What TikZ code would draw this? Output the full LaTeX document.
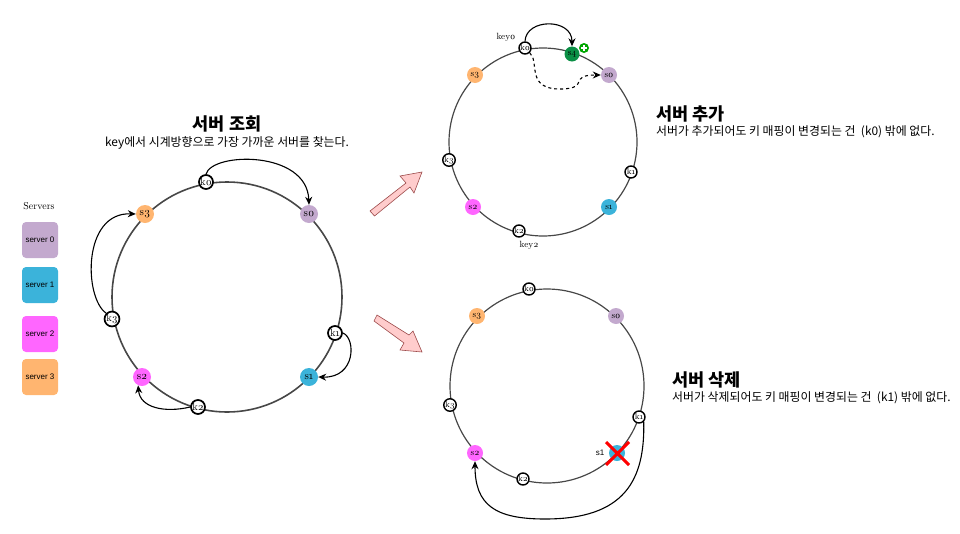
\documentclass[tikz,border=0pt]{standalone}
\usepackage{fontspec}
\setmainfont{Latin Modern Roman}[Numbers=OldStyle]
\newfontfamily\krfont{Noto Sans CJK KR}
\newfontfamily\lgfont{Liberation Sans}
\usetikzlibrary{arrows.meta}
\definecolor{srvzero}{HTML}{C3A9CE}
\definecolor{srvone}{HTML}{3BB3DA}
\definecolor{srvtwo}{HTML}{FF66FF}
\definecolor{srvthree}{HTML}{FFB570}
\definecolor{srvfour}{HTML}{0B8F45}

\begin{document}
\begin{tikzpicture}[
  x = 1pt, y = -1pt,
  ring/.style = {circle, draw = black!72, line width = 1.6pt, inner sep = 0pt, minimum size = #1},
  srv/.style = {circle, fill = #1, inner sep = 0pt, minimum size = 18pt, font = \fontsize{11}{11}\selectfont},
  srvsmall/.style = {srv = #1, minimum size = 16pt, font = \fontsize{9}{9}\selectfont},
  kbig/.style = {circle, draw, fill = white, line width = 1.7pt, inner sep = 0pt, minimum size = 14pt, font = \fontsize{10.5}{10}\selectfont},
  ksmall/.style = {kbig, line width = 1.4pt, minimum size = 12pt, font = \fontsize{8.5}{8}\selectfont},
  lgbox/.style = {rectangle, rounded corners = 4pt, fill = #1, minimum width = 36pt, minimum height = 36pt, inner sep = 0pt, font = \lgfont\fontsize{8}{8}\selectfont},
  ttl/.style = {inner sep = 0pt, font = \krfont\bfseries\fontsize{17.5}{18}\selectfont},
  sub/.style = {inner sep = 0pt, font = \krfont\fontsize{11.9}{13}\selectfont},
  link/.style = {-{Stealth[length = 8pt, width = 7pt]}, line width = 1.1pt},
  blockarrow/.style = {draw = red!45!black!70, fill = red!20, line width = 0.6pt}
  ]
  \useasboundingbox (0,0) rectangle (960,533);

  % legend
  \node (servers) [font = \fontsize{10}{10}\selectfont, inner sep = 0pt] at (39,206) {Servers};
  \node (lg0) [lgbox = srvzero] at (40,240) {server 0};
  \node (lg1) [lgbox = srvone] at (40,285) {server 1};
  \node (lg2) [lgbox = srvtwo] at (40,334) {server 2};
  \node (lg3) [lgbox = srvthree] at (40,377) {server 3};

  % main ring
  \node (ringa) [ring = 230pt] at (227,297) {};
  \node (as0) [srv = srvzero] at (309,214) {s0};
  \node (as1) [srv = srvone] at (309,377) {s1};
  \node (as2) [srv = srvtwo] at (142,377) {s2};
  \node (as3) [srv = srvthree] at (145,214) {s3};
  \node (ak0) [kbig] at (206,182) {k0};
  \node (ak1) [kbig] at (335,333) {k1};
  \node (ak2) [kbig] at (198,407) {k2};
  \node (ak3) [kbig] at (112,319) {k3};
  \draw [link] (ak0.north) .. controls (212,152) and (307,150) .. (as0.north);
  \draw [link] (ak3.north west) .. controls (84,298) and (82,212) .. (as3.west);
  \draw [link] (ak2.west) .. controls (165,413) and (140,408) .. (as2.245);
  \draw [link] (ak1.east) .. controls (356,338) and (356,378) .. (as1.east);
  \node (ttla) [ttl] at (227,124) {서버 조회};
  \node (suba) [sub] at (227,143) {key에서 시계방향으로 가장 가까운 서버를 찾는다.};

  % block arrows
  \draw [blockarrow] (370,211) -- (406,183) -- (400,176) -- (422,172) -- (414,193) -- (410,187) -- (374.5,216) -- cycle;
  \draw [blockarrow] (377,315) -- (409,335) -- (413,331) -- (422,352) -- (400,350) -- (404,343) -- (374,321) -- cycle;

  % added server
  \node (ringb) [ring = 188pt, line width = 1.2pt] at (543,142) {};
  \node (bs0) [srvsmall = srvzero] at (609,75) {s0};
  \node (bs1) [srvsmall = srvone] at (609,207) {s1};
  \node (bs2) [srvsmall = srvtwo] at (473,207) {s2};
  \node (bs3) [srvsmall = srvthree] at (475,75) {s3};
  \node (bs4) [srvsmall = srvfour, minimum size = 15pt] at (572,54) {s4};
  \node (bplus) [circle, fill = green!65!black, inner sep = 0pt, minimum size = 10pt] at (584,48) {};
  \draw [white, line width = 1.4pt] (581,48) -- (587,48) (584,45) -- (584,51);
  \node (bk0) [ksmall] at (525,48) {k0};
  \node (bk1) [ksmall] at (631,172) {k1};
  \node (bk2) [ksmall] at (519,231) {k2};
  \node (bk3) [ksmall] at (449,160) {k3};
  \node (bkey0) [font = \fontsize{9}{9}\selectfont, inner sep = 0pt] at (506,37) {key0};
  \node (bkey2) [font = \fontsize{9}{9}\selectfont, inner sep = 0pt] at (529,245) {key2};
  \draw [link] (bk0.north) .. controls (526,18) and (572,18) .. (bs4.north);
  \draw [link, dashed] (bk0.south east) .. controls (540,62) and (525,90) .. (562,89)
    .. controls (590,88) and (568,75) .. (bs0.west);
  \node (ttlb) [ttl, anchor = west] at (656,114) {서버 추가};
  \node (subb) [sub, anchor = west] at (656,132) {서버가 추가되어도 키 매핑이 변경되는 건~~(k0) 밖에 없다.};

  % removed server
  \node (ringc) [ring = 194pt, line width = 1.2pt] at (547,386) {};
  \node (cs0) [srvsmall = srvzero] at (616,316) {s0};
  \node (cs1) [circle, fill = srvone, inner sep = 0pt, minimum size = 16pt] at (617,453) {};
  \node (cs2) [srvsmall = srvtwo] at (475,453) {s2};
  \node (cs3) [srvsmall = srvthree] at (477,316) {s3};
  \node (ck0) [ksmall] at (529,289) {k0};
  \node (ck1) [ksmall] at (639,417) {k1};
  \node (ck2) [ksmall] at (523,479) {k2};
  \node (ck3) [ksmall] at (450,405) {k3};
  \node (cs1lab) [font = \lgfont\fontsize{8}{8}\selectfont, inner sep = 0pt] at (600,453) {s1};
  \draw [red, line width = 3pt] (606,442) -- (629,465) (629,442) -- (606,465);
  \draw [link] (ck1.south east) .. controls (645,480) and (625,519) .. (545,519)
    .. controls (495,519) and (475,505) .. (cs2.south);
  \node (ttlc) [ttl, anchor = west] at (672,380) {서버 삭제};
  \node (subc) [sub, anchor = west] at (672,398) {서버가 삭제되어도 키 매핑이 변경되는 건~~(k1) 밖에 없다.};
\end{tikzpicture}
\end{document}
